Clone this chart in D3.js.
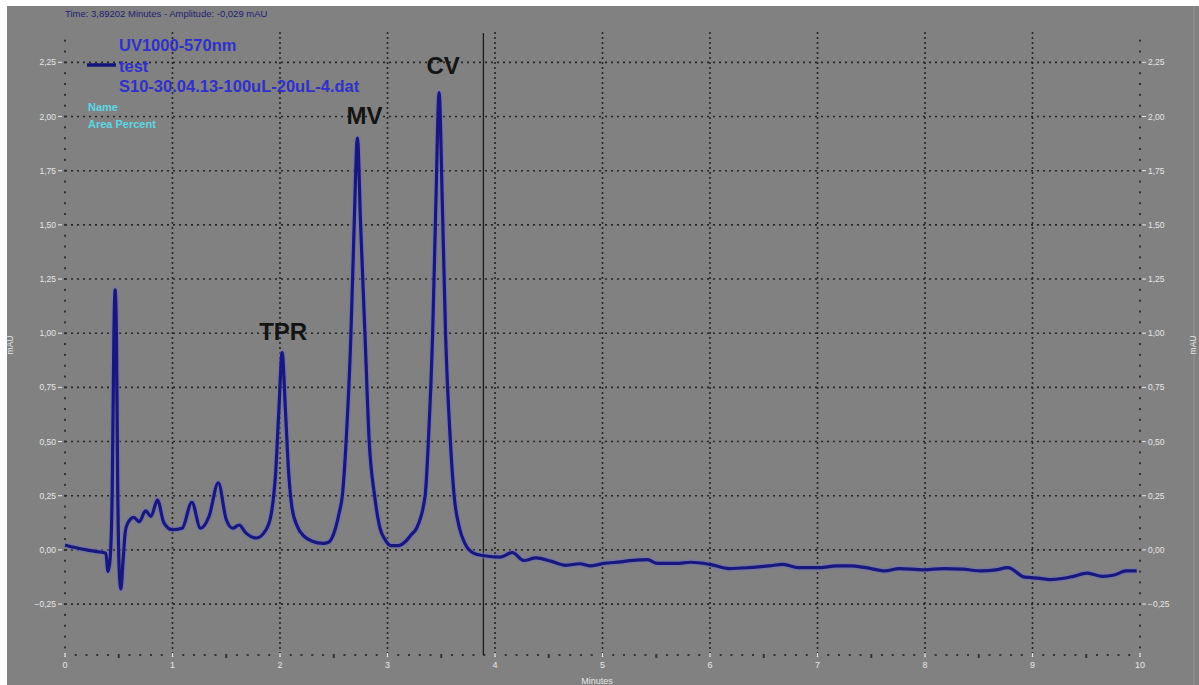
<!DOCTYPE html>
<html><head><meta charset="utf-8">
<script src="https://cdn.jsdelivr.net/npm/d3@7"></script>
<style>html,body{margin:0;padding:0;background:#fff;}svg{display:block;}</style>
</head><body>
<svg id="chart" width="1199" height="685"></svg>
<script>
// ---- data ----
const times = [0,0.1,0.2,0.3,0.38,0.40,0.42,0.44,0.455,0.466,0.478,0.49,0.505,0.52,0.54,0.56,0.58,0.64,0.69,0.75,0.80,0.86,0.92,1.0,1.09,1.18,1.26,1.34,1.426,1.50,1.56,1.62,1.68,1.78,1.87,1.92,1.96,1.99,2.02,2.05,2.08,2.11,2.16,2.22,2.30,2.40,2.45,2.51,2.55,2.58,2.615,2.66,2.69,2.72,2.75,2.79,2.83,2.88,2.93,2.98,3.03,3.10,3.17,3.22,3.27,3.35,3.38,3.42,3.45,3.48,3.51,3.54,3.585,3.62,3.67,3.72,3.80,3.90,4.05,4.16,4.27,4.38,4.52,4.66,4.79,4.88,5.01,5.17,5.28,5.42,5.51,5.69,5.82,6.0,6.18,6.36,6.55,6.68,6.82,7.0,7.18,7.31,7.45,7.63,7.76,7.99,8.17,8.35,8.53,8.66,8.77,8.93,9.07,9.16,9.29,9.38,9.51,9.65,9.76,9.87,9.97];
const amps  = [0.023,0.01,0.0,-0.008,-0.015,-0.10,-0.04,0.30,1.00,1.20,1.00,0.30,-0.10,-0.18,-0.05,0.08,0.12,0.15,0.13,0.18,0.155,0.23,0.125,0.093,0.10,0.22,0.10,0.155,0.31,0.14,0.10,0.115,0.08,0.055,0.093,0.17,0.36,0.65,0.91,0.65,0.36,0.20,0.11,0.065,0.04,0.03,0.035,0.09,0.17,0.25,0.50,1.00,1.50,1.90,1.50,1.00,0.50,0.25,0.10,0.045,0.02,0.02,0.04,0.07,0.10,0.25,0.50,1.00,1.60,2.11,1.60,1.00,0.50,0.25,0.10,0.03,-0.015,-0.027,-0.033,-0.012,-0.049,-0.037,-0.052,-0.071,-0.064,-0.074,-0.0625,-0.055,-0.048,-0.045,-0.0625,-0.0625,-0.057,-0.067,-0.086,-0.082,-0.074,-0.067,-0.082,-0.082,-0.074,-0.074,-0.082,-0.097,-0.086,-0.092,-0.086,-0.089,-0.097,-0.092,-0.082,-0.126,-0.131,-0.137,-0.131,-0.122,-0.107,-0.122,-0.116,-0.097,-0.097];
const xTicks = [0,1,2,3,4,5,6,7,8,9,10];
const yTicks = [-0.25,0,0.25,0.5,0.75,1.0,1.25,1.5,1.75,2.0,2.25];
const peakNames = ["TPR","MV","CV"];
const peakTimes = [2.02,2.72,3.48];
const peakAmps = [0.91,1.90,2.11];
const legendLines = ["UV1000-570nm","test","S10-30.04.13-100uL-20uL-4.dat"];
const infoLines = ["Name","Area Percent"];
const cursorTime = 3.89202;
const headerText = "Time:  3,89202 Minutes - Amplitude:  -0,029 mAU";

// ---- drawing ----
const svg = d3.select("#chart");
const W = 1199, H = 685;
const x = d3.scaleLinear().domain([0,10]).range([65,1140]);
const y = d3.scaleLinear().domain([-0.485,2.39]).range([655,32]);
const fmt = v => d3.format(".2f")(v).replace(".", ",");

svg.append("rect").attr("x",0).attr("y",0).attr("width",W).attr("height",H).attr("fill","#ffffff");
svg.append("rect").attr("x",7).attr("y",6).attr("width",W-7).attr("height",H-6).attr("fill","#818181");
svg.append("line").attr("x1",1194).attr("x2",1194).attr("y1",6).attr("y2",H).attr("stroke","#959595").attr("stroke-width",1);

const grid = svg.append("g");
grid.selectAll("line.h").data(yTicks).join("line")
  .attr("x1",x(0)).attr("x2",x(10)).attr("y1",d=>y(d)).attr("y2",d=>y(d))
  .attr("stroke","#262626").attr("stroke-width",1.6).attr("stroke-dasharray","2,4");
grid.selectAll("line.v").data(xTicks.filter(d=>d>0&&d<10)).join("line")
  .attr("x1",d=>x(d)).attr("x2",d=>x(d)).attr("y1",y.range()[1]).attr("y2",y.range()[0])
  .attr("stroke","#262626").attr("stroke-width",1.6).attr("stroke-dasharray","2,3");

// minor ticks (dots) along axes
const yMinor = d3.range(-0.45, 2.40, 0.05);
svg.append("g").selectAll("rect").data(yMinor).join("rect")
  .attr("x",x(0)-1).attr("y",d=>y(d)-1).attr("width",2).attr("height",2).attr("fill","#333");
svg.append("g").selectAll("rect").data(yMinor).join("rect")
  .attr("x",x(10)-1).attr("y",d=>y(d)-1).attr("width",2).attr("height",2).attr("fill","#333");
const xMinor = d3.range(0, 10.01, 0.1);
svg.append("g").selectAll("rect").data(xMinor).join("rect")
  .attr("x",d=>x(d)-1).attr("y",y.range()[0]-1).attr("width",2)
  .attr("height",(d,i)=> i%5===0 && i%10!==0 ? 4 : 2).attr("fill","#333");

// major ticks and labels
const labelColor = "#e6e6e6";
const axL = svg.append("g");
axL.selectAll("line").data(yTicks).join("line")
  .attr("x1",x(0)-7).attr("x2",x(0)-3).attr("y1",d=>y(d)).attr("y2",d=>y(d)).attr("stroke",labelColor).attr("stroke-width",1);
axL.selectAll("text").data(yTicks).join("text")
  .attr("x",x(0)-9).attr("y",d=>y(d)+3).attr("text-anchor","end")
  .attr("font-family","Liberation Sans, Arial, sans-serif").attr("font-size",8.5).attr("fill",labelColor).text(fmt);
const axR = svg.append("g");
axR.selectAll("line").data(yTicks).join("line")
  .attr("x1",x(10)+2).attr("x2",x(10)+6).attr("y1",d=>y(d)).attr("y2",d=>y(d)).attr("stroke",labelColor).attr("stroke-width",1);
axR.selectAll("text").data(yTicks).join("text")
  .attr("x",x(10)+8).attr("y",d=>y(d)+3).attr("text-anchor","start")
  .attr("font-family","Liberation Sans, Arial, sans-serif").attr("font-size",8.5).attr("fill",labelColor).text(fmt);
const axB = svg.append("g");
axB.selectAll("line").data(xTicks).join("line")
  .attr("x1",d=>x(d)).attr("x2",d=>x(d)).attr("y1",y.range()[0]-2).attr("y2",y.range()[0]+2).attr("stroke",labelColor).attr("stroke-width",1.5);
axB.selectAll("text").data(xTicks).join("text")
  .attr("x",d=>x(d)).attr("y",y.range()[0]+13).attr("text-anchor","middle")
  .attr("font-family","Liberation Sans, Arial, sans-serif").attr("font-size",9).attr("fill",labelColor).text(d=>d);

// axis titles
svg.append("text").attr("transform","translate(13,345) rotate(-90)").attr("text-anchor","middle")
  .attr("font-family","Liberation Sans, Arial, sans-serif").attr("font-size",8.5).attr("fill",labelColor).text("mAU");
svg.append("text").attr("transform","translate(1196,345) rotate(-90)").attr("text-anchor","middle")
  .attr("font-family","Liberation Sans, Arial, sans-serif").attr("font-size",8.5).attr("fill",labelColor).text("mAU");
svg.append("text").attr("x",597).attr("y",684).attr("text-anchor","middle")
  .attr("font-family","Liberation Sans, Arial, sans-serif").attr("font-size",9).attr("fill",labelColor).text("Minutes");

// header
svg.append("text").attr("x",65).attr("y",17)
  .attr("font-family","Liberation Sans, Arial, sans-serif").attr("font-size",9.5).attr("fill","#1e1e70").text(headerText);

// cursor line
svg.append("line").attr("x1",x(cursorTime)).attr("x2",x(cursorTime)).attr("y1",33).attr("y2",y.range()[0])
  .attr("stroke","#1c1c1c").attr("stroke-width",1.3);

// trace
const pts = times.map((t,i)=>[t,amps[i]]);
const line = d3.line().x(d=>x(d[0])).y(d=>y(d[1])).curve(d3.curveMonotoneX);
svg.append("path").attr("d",line(pts)).attr("fill","none").attr("stroke","#7070b8").attr("stroke-width",6).attr("stroke-opacity",0.55).attr("stroke-linejoin","round");
svg.append("path").attr("d",line(pts)).attr("fill","none").attr("stroke","#17177e").attr("stroke-width",3.2).attr("stroke-linejoin","round");

// peak labels
const labelDx = [1,7,4], labelDy = [13,14,19];
svg.append("g").selectAll("text").data(peakNames).join("text")
  .attr("x",(d,i)=>x(peakTimes[i]) + labelDx[i])
  .attr("y",(d,i)=>y(peakAmps[i]) - labelDy[i])
  .attr("text-anchor","middle")
  .attr("font-family","Liberation Sans, Arial, sans-serif").attr("font-weight","bold").attr("font-size",24)
  .attr("fill","#141414").text(d=>d);

// legend
const lg = svg.append("g").attr("font-family","Liberation Sans, Arial, sans-serif").attr("font-weight","bold");
lg.append("line").attr("x1",87).attr("x2",116).attr("y1",65).attr("y2",65).attr("stroke","#16167a").attr("stroke-width",3.5);
lg.selectAll("text.l").data(legendLines).join("text")
  .attr("x",119).attr("y",(d,i)=>51+i*20.5).attr("font-size",16.5).attr("fill","#3030cc").text(d=>d);
lg.selectAll("text.n").data(infoLines).join("text")
  .attr("x",88).attr("y",(d,i)=>111+i*16.5).attr("font-size",11).attr("fill","#5cd8e4").text(d=>d);
</script>
</body></html>
